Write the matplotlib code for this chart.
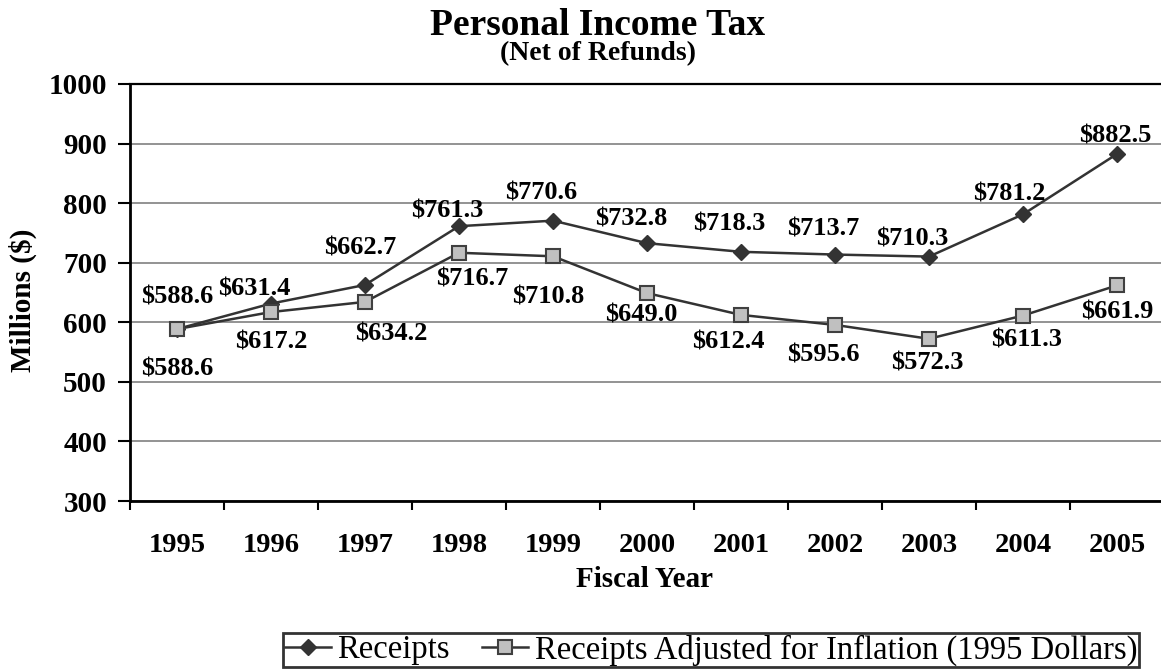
import numpy as np
import matplotlib
matplotlib.use('Agg')
import matplotlib.pyplot as plt

# Chart data
years = ['1995', '1996', '1997', '1998', '1999', '2000',
         '2001', '2002', '2003', '2004', '2005']
receipts = [588.6, 631.4, 662.7, 761.3, 770.6, 732.8,
            718.3, 713.7, 710.3, 781.2, 882.5]
adjusted = [588.6, 617.2, 634.2, 716.7, 710.8, 649.0,
            612.4, 595.6, 572.3, 611.3, 661.9]
y_ticks = [300, 400, 500, 600, 700, 800, 900, 1000]

# Label offsets (pixels right, pixels down from the point to the label centre)
receipts_off = [(0, -35), (-17, -17), (-5, -39), (-12, -18), (-12, -30), (-16, -27),
                (-12, -30), (-12, -28), (-17, -20), (-14, -23), (-2, -20)]
adjusted_off = [(0, 37), (0, 27), (26, 30), (13, 24), (-5, 38), (-6, 19),
                (-13, 25), (-12, 28), (-2, 22), (3, 22), (0, 24)]

plt.rcParams['font.family'] = ['Liberation Serif', 'DejaVu Serif']

W, H = 1161, 671
fig = plt.figure(figsize=(W / 100, H / 100), dpi=100)
ax = fig.add_axes([130 / W, (H - 501) / H, 1034 / W, 417 / H])

x = np.arange(len(years))
line_col = '#333333'
ax.plot(x, receipts, color=line_col, lw=1.8, marker='D', ms=8,
        mfc=line_col, mec=line_col, label='Receipts', zorder=3)
ax.plot(x, adjusted, color=line_col, lw=1.8, marker='s', ms=9.5,
        mfc='#c0c0c0', mec='#404040', mew=1.5,
        label='Receipts Adjusted for Inflation (1995 Dollars)', zorder=4)

# Data labels
for xi, v, (dx, dy) in zip(x, receipts, receipts_off):
    ax.annotate(f'${v:.1f}', (xi, v), xytext=(dx, -(dy + 9)),
                textcoords='offset pixels', ha='center', va='baseline',
                fontsize=19, fontweight='bold', zorder=5)
for xi, v, (dx, dy) in zip(x, adjusted, adjusted_off):
    ax.annotate(f'${v:.1f}', (xi, v), xytext=(dx, -(dy + 9)),
                textcoords='offset pixels', ha='center', va='baseline',
                fontsize=19, fontweight='bold', zorder=5)

# Axes styling
ax.set_xlim(-0.5, len(years) - 0.5)
ax.set_ylim(300, 1000)
ax.set_yticks(y_ticks)
ax.set_yticklabels([str(t) for t in y_ticks], fontsize=21, fontweight='bold')
ax.tick_params(axis='y', length=8.5, width=1.5, pad=8, direction='out')
ax.yaxis.grid(True, color='#808080', lw=1.2)
ax.set_axisbelow(True)

ax.set_xticks(np.arange(-0.5, len(years), 1))
ax.set_xticklabels([])
ax.set_xticks(x, minor=True)
ax.set_xticklabels(years, minor=True, fontsize=20.5, fontweight='bold')
ax.tick_params(axis='x', which='major', length=6.5, width=1.5, direction='out')
ax.tick_params(axis='x', which='minor', length=0, pad=23)

ax.spines['right'].set_visible(False)
ax.spines['top'].set_linewidth(1.6)
ax.spines['left'].set_linewidth(2)
ax.spines['bottom'].set_linewidth(2)

# Titles and axis labels
fig.text(598 / W, (H - 35) / H, 'Personal Income Tax', ha='center', va='baseline',
         fontsize=27, fontweight='bold')
fig.text(598 / W, (H - 60) / H, '(Net of Refunds)', ha='center', va='baseline',
         fontsize=20, fontweight='bold')
fig.text(23 / W, (H - 300) / H, 'Millions ($)', ha='center', va='center',
         rotation=90, fontsize=21, fontweight='bold')
fig.text(644 / W, (H - 587) / H, 'Fiscal Year', ha='center', va='baseline',
         fontsize=21, fontweight='bold')

# Legend
leg = fig.legend(loc='center', bbox_to_anchor=(711 / W, (H - 650) / H), ncol=2,
                 fontsize=23.5, frameon=True, fancybox=False, handlelength=1.4,
                 handletextpad=0.2, columnspacing=1.0, borderpad=0.05,
                 borderaxespad=0)
leg.get_frame().set_edgecolor('black')
leg.get_frame().set_linewidth(2)

fig.savefig('out.png', dpi=100)
